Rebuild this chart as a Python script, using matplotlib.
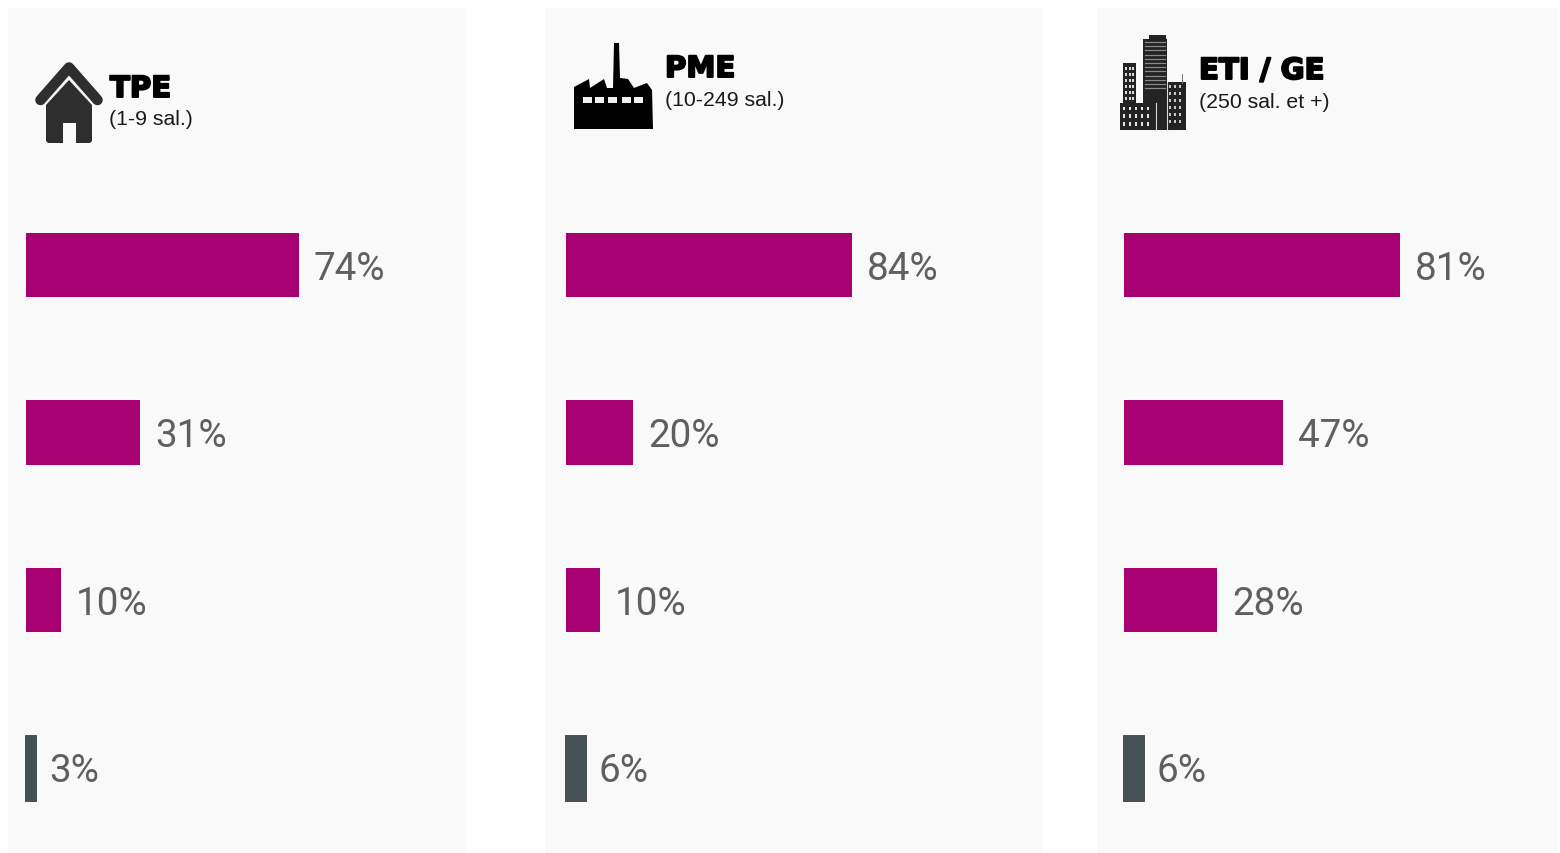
import numpy as np
import matplotlib
matplotlib.use("Agg")
import matplotlib.pyplot as plt
import matplotlib.patheffects as pe
from matplotlib.patches import Polygon, Rectangle

plt.rcParams['font.family'] = ['Liberation Sans', 'DejaVu Sans']

W, H = 1560, 854

titles = ["TPE", "PME", "ETI / GE"]
subtitles = ["(1-9 sal.)", "(10-249 sal.)", "(250 sal. et +)"]
rows = [0, 1, 2, 3]
# bar lengths as measured, printed labels are the rounded ones
tpe_values = [74, 31, 9.5, 3]
pme_values = [84, 19.7, 10, 6]
eti_values = [81, 46.7, 27.4, 6]
tpe_labels = ["74%", "31%", "10%", "3%"]
pme_labels = ["84%", "20%", "10%", "6%"]
eti_labels = ["81%", "47%", "28%", "6%"]
all_values = [tpe_values, pme_values, eti_values]
all_labels = [tpe_labels, pme_labels, eti_labels]

PURPLE = "#a60071"
SLATE = "#465154"
BG = "#f9f9f9"
LABEL = "#5f5f5f"
bar_colors = [PURPLE, PURPLE, PURPLE, SLATE]

# panel left/right px, bar start px, px per percent
panels = [(8, 466, 26, 3.69), (545, 1043, 566, 3.41), (1097, 1558, 1124, 3.41)]
title_pos = [(110, 87), (665, 67), (1199, 69)]
sub_pos = [(109, 118), (665, 99), (1199, 101)]

row_step = 167.6
first_row = 266
TOP = 9

fig = plt.figure(figsize=(W / 100, H / 100), dpi=100, facecolor="white")

for (left, right, start, scale), values, labels in zip(panels, all_values, all_labels):
    ax = fig.add_axes([left / W, 0, (right - left) / W, (H - TOP) / H])
    ax.set_facecolor(BG)
    ax.set_xlim((left - start) / scale, (right - start) / scale)
    ax.set_ylim((H - first_row) / row_step, (TOP - first_row) / row_step)
    heights = [0.385, 0.385, 0.385, 0.395]
    bars = ax.barh(rows, values, height=heights, color=bar_colors)
    bars[3].set_edgecolor(SLATE)
    bars[3].set_linewidth(0.7)
    bars[3].set_x(-0.25)
    anns = ax.bar_label(bars, labels=labels, padding=10.5, fontsize=27.8,
                        color=LABEL, family=['Roboto', 'DejaVu Sans'])
    for a in anns[:3]:
        a.xyann = (10.5, -2.2)
    anns[3].xyann = (9.5, -2.2)
    ax.set_xticks([])
    ax.set_yticks([])
    for s in ax.spines.values():
        s.set_visible(False)

# overlay in pixel coords for the headers and icons
ov = fig.add_axes([0, 0, 1, 1], facecolor="none")
ov.set_xlim(0, W)
ov.set_ylim(H, 0)
ov.axis("off")

for t, s, tp, sp in zip(titles, subtitles, title_pos, sub_pos):
    ov.text(tp[0], tp[1] + 3, t, fontsize=21, fontweight="bold", color="black", va="center", ha="left",
            family=['DejaVu Sans'],
            path_effects=[pe.withStroke(linewidth=1.4, foreground="black")])
    ov.text(sp[0], sp[1] + 1.5, s, fontsize=15.3, color="#1a1a1a", va="center", ha="left")

# house
DARK = "#2e2e2e"
ov.plot([40.5, 69, 97.5], [101, 68.5, 101], color=DARK, lw=7.6, solid_capstyle="round", solid_joinstyle="round")
ov.add_patch(Polygon([(46, 106), (69, 81), (92, 106), (92, 142), (90, 144), (76, 144), (76, 124),
                      (63, 124), (63, 144), (48, 144), (46, 142)], closed=True, fc=DARK, ec="none"))

# factory
ov.add_patch(Polygon([(574, 88), (589, 80), (590, 89), (604, 80), (607, 89), (613, 89), (614, 44),
                      (619, 44), (620, 79), (628, 80), (634, 89), (647, 84), (652, 91), (653, 130),
                      (574, 130)], closed=True, fc="black", ec="none"))
for wx in [583, 595, 608, 622, 634]:
    ov.add_patch(Rectangle((wx, 98), 9, 6, fc="#f0f0f0", ec="none"))

# buildings
BLD = "#232323"
ov.add_patch(Rectangle((1149, 36), 17, 5, fc=BLD, ec="none"))
ov.add_patch(Rectangle((1143, 40), 24, 91, fc=BLD, ec="none"))
ov.add_patch(Rectangle((1123, 64), 13, 45, fc=BLD, ec="none"))
ov.add_patch(Rectangle((1167, 83), 19, 48, fc=BLD, ec="none"))
ov.add_patch(Rectangle((1120, 104), 35, 27, fc=BLD, ec="none"))
ov.plot([1182, 1182], [75, 84], color="#777777", lw=0.7)
for y in np.arange(43, 92, 4.2):
    ov.plot([1145, 1165], [y, y], color="#8a8a8a", lw=0.9)
ov.plot([1155.5, 1155.5], [104, 131], color="#d8d8d8", lw=0.8)
ov.plot([1167, 1167], [83, 131], color="#d8d8d8", lw=0.8)
for y in [68, 74, 80, 86, 92, 98]:
    for x in [1126, 1129.5, 1133]:
        ov.add_patch(Rectangle((x - 1, y), 2, 3, fc="#d8d8d8", ec="none"))
for y in [107.5, 115, 123]:
    for x in [1124, 1130, 1136, 1142, 1148]:
        ov.add_patch(Rectangle((x - 1, y), 2.2, 3.6, fc="#e2e2e2", ec="none"))
for y in [86, 93, 100, 107, 114, 121]:
    for x in [1170, 1175, 1180]:
        ov.add_patch(Rectangle((x - 1, y), 2, 3, fc="#c8c8c8", ec="none"))

fig.savefig("out.png", dpi=100)
